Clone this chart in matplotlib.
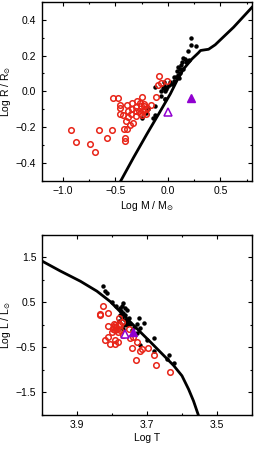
import matplotlib
matplotlib.use("Agg")
import matplotlib.pyplot as plt
from matplotlib.ticker import MultipleLocator

plt.rcParams['font.family'] = ['Liberation Sans', 'DejaVu Sans']
plt.rcParams['mathtext.fontset'] = 'dejavusans'

# --- top panel: mass-radius ---
track_logm = [-0.454, -0.327, -0.2, -0.089, 0.022, 0.086, 0.149, 0.229, 0.29, 0.31,
              0.33, 0.387, 0.45, 0.498, 0.625, 0.8]
track_logr = [-0.505, -0.369, -0.238, -0.127, -0.015, 0.06, 0.125, 0.181, 0.215, 0.228,
              0.23, 0.235, 0.26, 0.287, 0.358, 0.469]

red_logm = [-0.92, -0.88, -0.746, -0.695, -0.657, -0.58, -0.533, -0.52, -0.476, -0.457,
            -0.454, -0.46, -0.43, -0.413, -0.413, -0.416, -0.39, -0.40, -0.384, -0.378,
            -0.387, -0.365, -0.352, -0.343, -0.33, -0.34, -0.308, -0.302, -0.295, -0.302,
            -0.279, -0.267, -0.25, -0.254, -0.238, -0.225, -0.244, -0.21, -0.2, -0.22,
            -0.162, -0.111, -0.092, -0.083, -0.07, -0.01, -0.27, -0.23]
red_logr = [-0.216, -0.285, -0.294, -0.339, -0.216, -0.26, -0.216, -0.037, -0.037, -0.074,
            -0.093, -0.127, -0.132, -0.26, -0.28, -0.21, -0.21, -0.164, -0.145, -0.108,
            -0.074, -0.186, -0.127, -0.099, -0.179, -0.065, -0.136, -0.108, -0.052, -0.086,
            -0.108, -0.063, -0.034, -0.082, -0.108, -0.082, -0.134, -0.127, -0.093, -0.097,
            -0.074, -0.03, 0.037, 0.084, 0.045, 0.058, -0.12, -0.07]

blk_logm = [0.219, 0.222, 0.267, 0.19, 0.14, 0.165, 0.18, 0.133, 0.12, 0.095, 0.117,
            0.143, 0.086, 0.111, 0.092, 0.079, 0.06, 0.108, 0.054, 0.022, 0.035, 0.006,
            -0.04, -0.035, -0.01, -0.048, -0.02, -0.063, -0.032, -0.128, -0.121, -0.143,
            -0.128, -0.19, -0.25, -0.21, -0.064, -0.032, -0.026, -0.03, 0.17, 0.2]
blk_logr = [0.296, 0.259, 0.251, 0.225, 0.186, 0.183, 0.171, 0.162, 0.145, 0.134, 0.125,
            0.125, 0.112, 0.102, 0.093, 0.082, 0.082, 0.073, 0.06, 0.05, 0.041, 0.037,
            0.05, 0.028, 0.026, 0.019, 0.013, 0.004, 0.0, 0.022, -0.081, -0.148,
            -0.13, -0.098, -0.15, -0.12, -0.024, -0.04, 0.019, -0.045, 0.165, 0.175]

open_tri_top = (0.0, -0.114)
fill_tri_top = (0.22, -0.037)

# --- bottom panel: HR diagram ---
track_logt = [4.0, 3.948, 3.89, 3.843, 3.805, 3.767, 3.729, 3.69, 3.652, 3.624, 3.6,
              3.581, 3.567, 3.552]
track_logl = [1.42, 1.2, 0.97, 0.75, 0.52, 0.22, -0.08, -0.38, -0.68, -0.9, -1.13,
              -1.43, -1.69, -2.03]

red_logt = [3.826, 3.833, 3.833, 3.81, 3.81, 3.795, 3.79, 3.795, 3.786, 3.781, 3.79,
            3.784, 3.8, 3.81, 3.819, 3.805, 3.79, 3.79, 3.784, 3.776, 3.771, 3.776,
            3.767, 3.752, 3.748, 3.74, 3.743, 3.729, 3.719, 3.714, 3.73, 3.698, 3.681,
            3.674, 3.633, 3.78, 3.797, 3.788]
red_logl = [0.43, 0.24, 0.21, 0.27, -0.03, 0.03, 0.0, -0.04, -0.08, 0.03, -0.12,
            -0.15, -0.15, -0.27, -0.34, -0.42, -0.33, -0.42, -0.38, 0.0, 0.07, -0.12,
            -0.23, -0.09, -0.29, -0.27, -0.51, -0.38, -0.59, -0.53, -0.79, -0.51, -0.66,
            -0.89, -1.05, 0.15, -0.08, -0.05]

blk_logt = [3.826, 3.819, 3.814, 3.8, 3.788, 3.778, 3.767, 3.771, 3.762, 3.757, 3.774,
            3.767, 3.776, 3.762, 3.771, 3.764, 3.758, 3.752, 3.781, 3.748, 3.724, 3.729,
            3.708, 3.719, 3.738, 3.743, 3.729, 3.757, 3.7, 3.679, 3.719, 3.681, 3.643,
            3.638, 3.624, 3.766, 3.768]
blk_logl = [0.86, 0.76, 0.71, 0.51, 0.43, 0.37, 0.48, 0.41, 0.37, 0.33, 0.31,
            0.26, 0.22, 0.21, 0.15, 0.11, 0.07, 0.15, 0.09, 0.01, 0.15, 0.03,
            0.05, -0.06, -0.04, -0.12, -0.17, 0.0, -0.34, -0.29, -0.45, -0.57, -0.75,
            -0.66, -0.85, 0.0, -0.08]

open_tri_bot = (3.762, -0.2)
fill_tri_bot = (3.74, -0.15)

red = '#e82418'
purple = '#9000d0'

fig = plt.figure(figsize=(2.54, 4.5), dpi=100)
ax1 = fig.add_axes([0.165, 0.598, 0.827, 0.398])
ax2 = fig.add_axes([0.165, 0.078, 0.827, 0.4])


def style(ax):
    ax.tick_params(which='both', direction='in', top=True, right=True,
                   labelsize=7.5, width=0.8, pad=4)
    ax.tick_params(which='major', length=3)
    ax.tick_params(which='minor', length=1.5)
    for s in ax.spines.values():
        s.set_linewidth(1.0)
    ax.yaxis.set_label_coords(-0.14, 0.5)


# top panel
ax1.plot(track_logm, track_logr, color='black', lw=2, zorder=2)
ax1.plot(blk_logm, blk_logr, 'o', color='black', ms=2.2, zorder=3)
ax1.plot(red_logm, red_logr, 'o', mfc='none', mec=red, mew=1.1, ms=4, zorder=4)
ax1.plot(*open_tri_top, '^', mfc='white', mec=purple, mew=1.1, ms=5.5, zorder=5)
ax1.plot(*fill_tri_top, '^', color=purple, ms=5.5, zorder=5)
ax1.set_xlim(-1.2, 0.8)
ax1.set_ylim(-0.5, 0.5)
ax1.xaxis.set_major_locator(MultipleLocator(0.5))
ax1.xaxis.set_minor_locator(MultipleLocator(0.25))
ax1.yaxis.set_major_locator(MultipleLocator(0.2))
ax1.yaxis.set_minor_locator(MultipleLocator(0.1))
ax1.set_xlabel(r'Log M / M$_{\odot}$', fontsize=7.5, labelpad=2)
ax1.set_ylabel(r'Log R / R$_{\odot}$', fontsize=7.5)
style(ax1)

# bottom panel
ax2.plot(track_logt, track_logl, color='black', lw=2, zorder=2)
ax2.plot(blk_logt, blk_logl, 'o', color='black', ms=2.2, zorder=3)
ax2.plot(red_logt, red_logl, 'o', mfc='none', mec=red, mew=1.1, ms=4, zorder=4)
ax2.plot(*open_tri_bot, '^', mfc='white', mec=purple, mew=1.1, ms=5.5, zorder=5)
ax2.plot(*fill_tri_bot, '^', color=purple, ms=5.5, zorder=5)
ax2.set_xlim(4.0, 3.4)
ax2.set_ylim(-2.0, 2.0)
ax2.set_xticks([3.9, 3.7, 3.5])
ax2.xaxis.set_minor_locator(MultipleLocator(0.1))
ax2.set_yticks([1.5, 0.5, -0.5, -1.5])
ax2.yaxis.set_minor_locator(MultipleLocator(0.5))
ax2.set_xlabel('Log T', fontsize=7.5, labelpad=2)
ax2.set_ylabel(r'Log L / L$_{\odot}$', fontsize=7.5)
style(ax2)

fig.savefig('out.png', dpi=100)
